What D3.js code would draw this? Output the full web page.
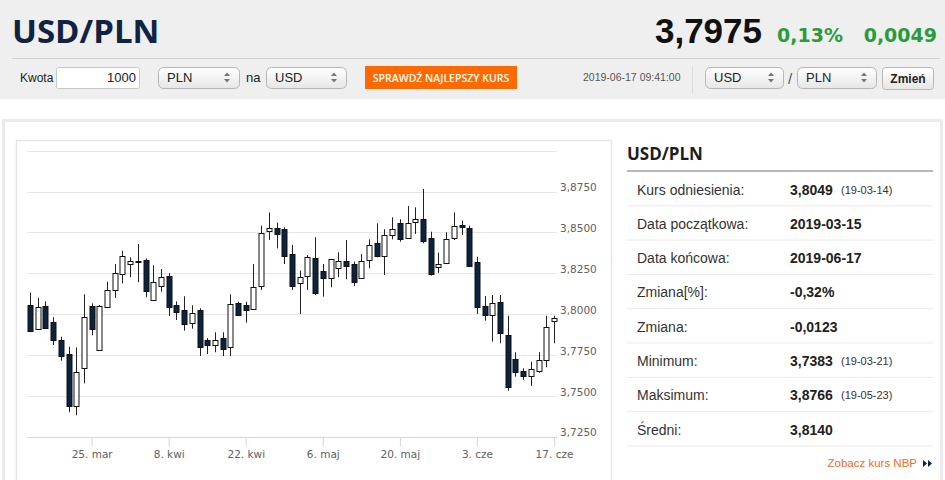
<!DOCTYPE html>
<html>
<head>
<meta charset="utf-8">
<script src="https://cdn.jsdelivr.net/npm/d3@7"></script>
<style>
  body { margin: 0; background: #fff; overflow: hidden; }
  svg { display: block; font-family: "Liberation Sans", Arial, sans-serif; }
</style>
</head>
<body>
<script>
/* data: business days 13.03 - 17.06.2019 */
var dates = ["03-13","03-14","03-15","03-18","03-19","03-20","03-21","03-22","03-25","03-26",
  "03-27","03-28","03-29","04-01","04-02","04-03","04-04","04-05","04-08","04-09",
  "04-10","04-11","04-12","04-15","04-16","04-17","04-18","04-19","04-22","04-23",
  "04-24","04-25","04-26","04-29","04-30","05-01","05-02","05-03","05-06","05-07",
  "05-08","05-09","05-10","05-13","05-14","05-15","05-16","05-17","05-20","05-21",
  "05-22","05-23","05-24","05-27","05-28","05-29","05-30","05-31","06-03","06-04",
  "06-05","06-06","06-07","06-10","06-11","06-12","06-13","06-14","06-17"];

var open = [3.8057,3.7912,3.8051,3.7951,3.7843,3.7757,3.7439,3.7670,3.8051,3.7782,
  3.8043,3.8147,3.8244,3.8306,3.8326,3.8332,3.8092,3.8173,3.8234,3.8057,
  3.8026,3.7949,3.8026,3.7843,3.7814,3.7855,3.7796,3.8067,3.8057,3.8032,
  3.8173,3.8505,3.8529,3.8520,3.8369,3.8189,3.8234,3.8342,3.8265,3.8220,
  3.8281,3.8326,3.8306,3.8220,3.8332,3.8438,3.8356,3.8485,3.8556,3.8462,
  3.8562,3.8583,3.8465,3.8287,3.8312,3.8471,3.8548,3.8529,3.8318,3.8051,
  3.7996,3.8073,3.7873,3.7725,3.7653,3.7623,3.7655,3.7721,3.7955];

var high = [3.8132,3.8100,3.8079,3.7982,3.7863,3.7802,3.7798,3.8122,3.8067,3.8057,
  3.8199,3.8307,3.8389,3.8348,3.8430,3.8342,3.8300,3.8277,3.8251,3.8079,
  3.8110,3.8055,3.8037,3.7855,3.7890,3.7890,3.8122,3.8077,3.8077,3.8307,
  3.8542,3.8623,3.8560,3.8532,3.8424,3.8267,3.8362,3.8471,3.8307,3.8338,
  3.8379,3.8454,3.8322,3.8369,3.8458,3.8556,3.8520,3.8593,3.8581,3.8662,
  3.8654,3.8766,3.8505,3.8377,3.8501,3.8623,3.8572,3.8542,3.8352,3.8112,
  3.8118,3.8118,3.7991,3.7768,3.7670,3.7710,3.7768,3.7991,3.7991];

var low = [3.7898,3.7910,3.7916,3.7812,3.7716,3.7401,3.7383,3.7578,3.7872,3.7780,
  3.8040,3.8100,3.8189,3.8226,3.8196,3.8104,3.8090,3.8138,3.7990,3.7965,
  3.7900,3.7912,3.7745,3.7757,3.7768,3.7745,3.7745,3.7994,3.7949,3.8030,
  3.8149,3.8454,3.8403,3.8307,3.8149,3.8002,3.8149,3.8118,3.8108,3.8165,
  3.8226,3.8214,3.8173,3.8218,3.8281,3.8348,3.8240,3.8458,3.8444,3.8460,
  3.8491,3.8434,3.8236,3.8254,3.8310,3.8454,3.8485,3.8291,3.8002,3.7961,
  3.7833,3.7823,3.7533,3.7619,3.7598,3.7562,3.7643,3.7676,3.7823];

var close = [3.7900,3.8045,3.7918,3.7843,3.7747,3.7439,3.7649,3.7982,3.7908,3.8051,
  3.8147,3.8251,3.8355,3.8326,3.8318,3.8144,3.8199,3.8226,3.8043,3.8014,
  3.7939,3.8010,3.7802,3.7814,3.7843,3.7786,3.8061,3.7996,3.8026,3.8169,
  3.8495,3.8526,3.8495,3.8356,3.8173,3.8226,3.8348,3.8128,3.8220,3.8336,
  3.8326,3.8297,3.8199,3.8326,3.8424,3.8356,3.8485,3.8520,3.8458,3.8556,
  3.8583,3.8448,3.8244,3.8306,3.8458,3.8542,3.8535,3.8297,3.8043,3.7996,
  3.8067,3.7884,3.7557,3.7645,3.7623,3.7666,3.7721,3.7921,3.7975];

var tickDates = ["03-25","04-08","04-22","05-06","05-20","06-03","06-17"],
    tickLabels = ["25. mar","8. kwi","22. kwi","6. maj","20. maj","3. cze","17. cze"],
    yTicks = [3.725,3.75,3.775,3.8,3.825,3.85,3.875,3.9];

/* side table */
var statLabels = ["Kurs odniesienia:","Data początkowa:","Data końcowa:","Zmiana[%]:","Zmiana:","Minimum:","Maksimum:","Średni:"],
    statValues = ["3,8049","2019-03-15","2019-06-17","-0,32%","-0,0123","3,7383","3,8766","3,8140"],
    statDates = ["(19-03-14)","","","","","(19-03-21)","(19-05-23)",""];

var rows = dates.map(function(d, i) {
  return {date: d, o: open[i], h: high[i], l: low[i], c: close[i]};
});

var svg = d3.select("body").append("svg")
    .attr("width", 945)
    .attr("height", 480);

/* header band */
svg.append("rect").attr("x", 0).attr("y", 0).attr("width", 945).attr("height", 99).attr("fill", "#efefef");
svg.append("text").attr("x", 12).attr("y", 43)
    .attr("font-family", "'Open Sans', sans-serif").attr("font-weight", 700).attr("font-size", 33)
    .attr("fill", "#0f2342").text("USD/PLN");
svg.append("line").attr("x1", 12).attr("x2", 940).attr("y1", 58.5).attr("y2", 58.5).attr("stroke", "#d2d2d2");

svg.append("text").attr("x", 762).attr("y", 43).attr("text-anchor", "end")
    .attr("font-weight", 700).attr("font-size", 35).attr("fill", "#111").text("3,7975");
svg.append("text").attr("x", 843).attr("y", 42).attr("text-anchor", "end")
    .attr("font-family", "'DejaVu Sans', sans-serif").attr("font-weight", 700).attr("font-size", 19)
    .attr("fill", "#2a9b3c").text("0,13%");
svg.append("text").attr("x", 937).attr("y", 42).attr("text-anchor", "end")
    .attr("font-family", "'DejaVu Sans', sans-serif").attr("font-weight", 700).attr("font-size", 19)
    .attr("fill", "#2a9b3c").text("0,0049");

/* form controls */
var grad = svg.append("defs").append("linearGradient").attr("id", "sel").attr("x1", 0).attr("x2", 0).attr("y1", 0).attr("y2", 1);
grad.append("stop").attr("offset", "0%").attr("stop-color", "#ffffff");
grad.append("stop").attr("offset", "100%").attr("stop-color", "#e6e6e6");

function selectBox(x, w, label) {
  var g = svg.append("g");
  g.append("rect").attr("x", x + 0.5).attr("y", 67.5).attr("width", w).attr("height", 21).attr("rx", 5)
      .attr("fill", "url(#sel)").attr("stroke", "#b5b5b5");
  g.append("text").attr("x", x + 9).attr("y", 82).attr("font-size", 13).attr("fill", "#222").text(label);
  var ax = x + w - 12;
  g.append("path").attr("d", "M" + (ax - 3) + ",76 L" + ax + ",72.5 L" + (ax + 3) + ",76 Z").attr("fill", "#777");
  g.append("path").attr("d", "M" + (ax - 3) + ",79 L" + ax + ",82.5 L" + (ax + 3) + ",79 Z").attr("fill", "#777");
}

svg.append("text").attr("x", 20).attr("y", 82).attr("font-size", 12).attr("fill", "#222").text("Kwota");
svg.append("rect").attr("x", 56.5).attr("y", 67.5).attr("width", 83).attr("height", 21).attr("rx", 2)
    .attr("fill", "#fff").attr("stroke", "#c8c8c8");
svg.append("text").attr("x", 136).attr("y", 82).attr("text-anchor", "end").attr("font-size", 13).attr("fill", "#222").text("1000");
selectBox(158, 81, "PLN");
svg.append("text").attr("x", 246).attr("y", 82).attr("font-size", 13).attr("fill", "#222").text("na");
selectBox(266, 80, "USD");

svg.append("rect").attr("x", 365).attr("y", 66).attr("width", 152).attr("height", 23).attr("fill", "#ff6a00");
svg.append("text").attr("x", 441).attr("y", 81.5).attr("text-anchor", "middle")
    .attr("font-family", "'Open Sans', sans-serif").attr("font-weight", 600).attr("font-size", 10.5)
    .attr("fill", "#fff").text("SPRAWDŹ NAJLEPSZY KURS");

svg.append("text").attr("x", 583).attr("y", 81).attr("font-size", 10.5).attr("fill", "#555").text("2019-06-17 09:41:00");
svg.append("line").attr("x1", 692.5).attr("x2", 692.5).attr("y1", 66).attr("y2", 93).attr("stroke", "#dcdcdc");
selectBox(705, 78, "USD");
svg.append("text").attr("x", 788).attr("y", 84).attr("font-size", 15).attr("fill", "#555").text("/");
selectBox(797, 79, "PLN");
svg.append("rect").attr("x", 882.5).attr("y", 67.5).attr("width", 51).attr("height", 22).attr("rx", 3)
    .attr("fill", "url(#sel)").attr("stroke", "#b8b8b8");
svg.append("text").attr("x", 908).attr("y", 82.5).attr("text-anchor", "middle")
    .attr("font-weight", 700).attr("font-size", 12).attr("fill", "#222").text("Zmień");

/* content frames */
svg.append("rect").attr("x", 3.5).attr("y", 120.5).attr("width", 938).attr("height", 380)
    .attr("fill", "none").attr("stroke", "#ebebeb").attr("stroke-width", 3);
svg.append("rect").attr("x", 16.5).attr("y", 140.5).attr("width", 595).attr("height", 360)
    .attr("fill", "none").attr("stroke", "#e6e6e6").attr("stroke-width", 1.5);

/* scales */
var x = d3.scalePoint().domain(dates).range([30, 554]),
    y = d3.scaleLinear().domain([3.725, 3.9]).range([437, 150.7]);

var chart = svg.append("g");

/* grid */
chart.append("g").selectAll("line")
    .data(yTicks)
    .enter().append("line")
      .attr("x1", 27).attr("x2", 557)
      .attr("y1", function(d) { return Math.round(y(d)) + 0.5; })
      .attr("y2", function(d) { return Math.round(y(d)) + 0.5; })
      .attr("stroke", "#e6e6e6");

/* y labels */
var yAxis = d3.axisRight(y)
    .tickValues(yTicks.slice(0, 7))
    .tickSize(0)
    .tickFormat(function(d) { return d3.format(".4f")(d).replace(".", ","); });

chart.append("g")
    .attr("transform", "translate(557,0)")
    .call(yAxis)
    .call(function(g) { g.select(".domain").remove(); })
    .selectAll("text")
      .attr("x", 3).attr("dy", "-0.1em")
      .attr("font-family", "'DejaVu Sans', sans-serif").attr("font-size", 10.5).attr("fill", "#606060");

/* x axis */
var xAxis = d3.axisBottom(x)
    .tickValues(tickDates)
    .tickSize(9)
    .tickPadding(4)
    .tickFormat(function(d) { return tickLabels[tickDates.indexOf(d)]; });

var xg = chart.append("g")
    .attr("transform", "translate(0,437.5)")
    .call(xAxis);
xg.select(".domain").remove();
xg.selectAll(".tick line").attr("stroke", "#ccd6eb");
xg.selectAll("text")
    .attr("font-family", "'DejaVu Sans', sans-serif").attr("font-size", 10.5).attr("fill", "#606060");
chart.append("line").attr("x1", 27).attr("x2", 557).attr("y1", 437.5).attr("y2", 437.5).attr("stroke", "#ccd6eb");

/* candles */
var candle = chart.append("g").selectAll("g")
    .data(rows)
    .enter().append("g")
      .attr("transform", function(d) { return "translate(" + (Math.round(x(d.date)) + 0.5) + ",0)"; });

candle.append("line")
    .attr("y1", function(d) { return y(d.h); })
    .attr("y2", function(d) { return y(d.l); })
    .attr("stroke", "#222");

candle.append("rect")
    .attr("x", -2.5)
    .attr("width", 5)
    .attr("y", function(d) { return Math.round(y(Math.max(d.o, d.c))) + 0.5; })
    .attr("height", function(d) { return Math.max(1, Math.round(Math.abs(y(d.o) - y(d.c)))); })
    .attr("fill", function(d) { return d.c < d.o ? "#0c2340" : "#fff"; })
    .attr("stroke", "#111");

/* side panel */
var side = svg.append("g");
side.append("text").attr("x", 627).attr("y", 160)
    .attr("font-family", "'Open Sans', sans-serif").attr("font-weight", 700).attr("font-size", 17)
    .attr("fill", "#1d1d1d").text("USD/PLN");
side.append("line").attr("x1", 627).attr("x2", 933).attr("y1", 171).attr("y2", 171)
    .attr("stroke", "#a0a0a0").attr("stroke-width", 1.5);

var rowH = 34.3;
var stat = side.selectAll("g.stat")
    .data(statLabels)
    .enter().append("g")
      .attr("class", "stat")
      .attr("transform", function(d, i) { return "translate(0," + (171 + i * rowH) + ")"; });

stat.append("text").attr("x", 637).attr("y", 23.5).attr("font-size", 14).attr("fill", "#333")
    .text(function(d) { return d; });
stat.append("text").attr("x", 790).attr("y", 23.5).attr("font-size", 14).attr("font-weight", 700).attr("fill", "#222")
    .text(function(d, i) { return statValues[i]; });
stat.append("text").attr("x", 841).attr("y", 22.5).attr("font-size", 11).attr("fill", "#333")
    .text(function(d, i) { return statDates[i]; });
stat.append("line").attr("x1", 627).attr("x2", 933).attr("y1", rowH + 0.5).attr("y2", rowH + 0.5)
    .attr("stroke", "#ebebeb");

side.append("text").attr("x", 917).attr("y", 467).attr("text-anchor", "end")
    .attr("font-size", 11.5).attr("fill", "#f26a21").text("Zobacz kurs NBP");
side.append("path").attr("d", "M923,460 L927,463.5 L923,467 Z M928,460 L932,463.5 L928,467 Z").attr("fill", "#0c2340");
</script>
</body>
</html>
